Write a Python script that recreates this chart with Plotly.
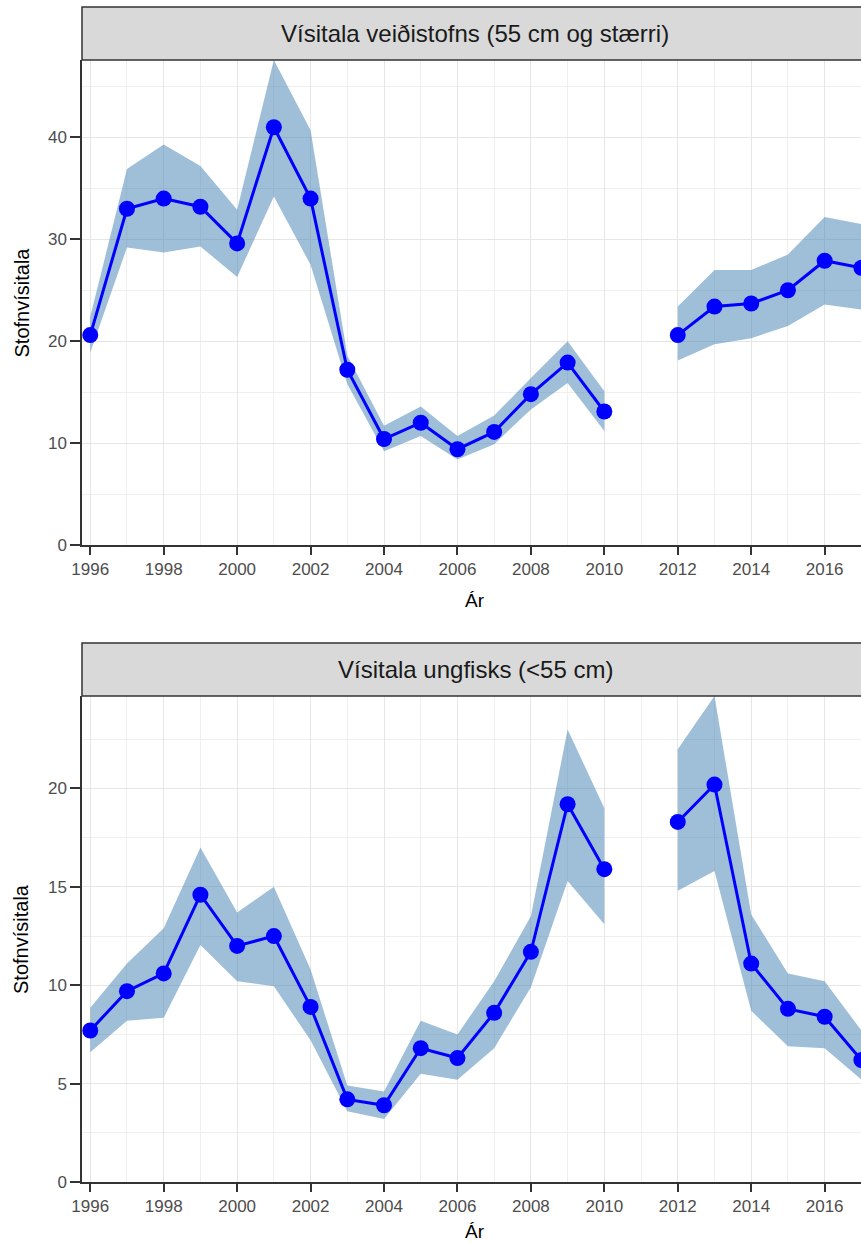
import plotly.graph_objects as go

years = list(range(1996, 2018))

# Panel 1: Vísitala veiðistofns (55 cm og stærri)
veidi_index = [20.6, 33.0, 34.0, 33.2, 29.6, 41.0, 34.0, 17.2, 10.4, 12.0, 9.4, 11.1,
               14.8, 17.9, 13.1, None, 20.6, 23.4, 23.7, 25.0, 27.9, 27.2]
veidi_lower = [18.9, 29.2, 28.7, 29.3, 26.3, 34.2, 27.5, 15.8, 9.2, 10.7, 8.4, 9.9,
               13.3, 15.9, 11.2, None, 18.1, 19.7, 20.3, 21.5, 23.6, 23.1]
veidi_upper = [22.4, 36.9, 39.3, 37.2, 32.9, 47.6, 40.7, 18.6, 11.7, 13.6, 10.7, 12.7,
               16.4, 20.0, 15.1, None, 23.4, 27.0, 27.0, 28.5, 32.2, 31.5]

# Panel 2: Vísitala ungfisks (<55 cm)
ung_index = [7.7, 9.7, 10.6, 14.6, 12.0, 12.5, 8.9, 4.2, 3.9, 6.8, 6.3, 8.6,
             11.7, 19.2, 15.9, None, 18.3, 20.2, 11.1, 8.8, 8.4, 6.2]
ung_lower = [6.6, 8.2, 8.35, 12.05, 10.2, 9.95, 7.2, 3.6, 3.2, 5.5, 5.2, 6.8,
             9.9, 15.3, 13.1, None, 14.8, 15.8, 8.7, 6.9, 6.8, 5.2]
ung_upper = [8.85, 11.1, 12.9, 17.0, 13.7, 15.0, 10.8, 4.9, 4.6, 8.2, 7.5, 10.2,
             13.5, 23.0, 19.0, None, 22.0, 24.7, 13.6, 10.6, 10.2, 7.7]

panel_titles = ["Vísitala veiðistofns (55 cm og stærri)", "Vísitala ungfisks (<55 cm)"]
y_title = "Stofnvísitala"
x_title = "Ár"

W, H = 861, 1244
L = 82
FONT = "Liberation Sans, Arial, Helvetica, sans-serif"
BLUE = "#0000ff"
RIBBON = "rgba(70,130,180,0.52)"

def py(pix):
    return (H - pix) / H

def px(pix):
    return (pix - L) / (W - L)

panels = [
    dict(strip_top=7, plot_top=60, plot_bottom=545, xlab=600,
         idx=veidi_index, lo=veidi_lower, hi=veidi_upper, ymax=47.6, dtick=10, minor=5),
    dict(strip_top=643, plot_top=696, plot_bottom=1182, xlab=1231,
         idx=ung_index, lo=ung_lower, hi=ung_upper, ymax=24.7, dtick=5, minor=2.5),
]

def segments(xs, series):
    segs, cur = [], []
    for i, x in enumerate(xs):
        if series[i] is None:
            if cur:
                segs.append(cur)
            cur = []
        else:
            cur.append(i)
    if cur:
        segs.append(cur)
    return segs

fig = go.Figure()
shapes = []
annotations = []

for k, p in enumerate(panels):
    xa = "x" if k == 0 else "x2"
    ya = "y" if k == 0 else "y2"
    for seg in segments(years, p["idx"]):
        sx = [years[i] for i in seg]
        up = [p["hi"][i] for i in seg]
        lo = [p["lo"][i] for i in seg]
        fig.add_trace(go.Scatter(
            x=sx + sx[::-1], y=up + lo[::-1], fill="toself", fillcolor=RIBBON,
            mode="lines", line=dict(width=0), hoverinfo="skip", showlegend=False,
            xaxis=xa, yaxis=ya))
    for seg in segments(years, p["idx"]):
        sx = [years[i] for i in seg]
        sy = [p["idx"][i] for i in seg]
        fig.add_trace(go.Scatter(
            x=sx, y=sy, mode="lines+markers",
            line=dict(color=BLUE, width=3),
            marker=dict(color=BLUE, size=16),
            showlegend=False, xaxis=xa, yaxis=ya))

    shapes.append(dict(type="rect", xref="paper", yref="paper",
                       x0=0, x1=1.05, y0=py(p["plot_top"]), y1=py(p["strip_top"]),
                       fillcolor="#d9d9d9", line=dict(color="#333333", width=1.5),
                       layer="above"))
    annotations.append(dict(text=panel_titles[k], xref="paper", yref="paper",
                            x=px(475), y=py((p["strip_top"] + p["plot_top"]) / 2),
                            xanchor="center", yanchor="middle", showarrow=False,
                            font=dict(family=FONT, size=24, color="#1a1a1a")))
    annotations.append(dict(text=y_title, xref="paper", yref="paper",
                            x=px(21), y=py((p["plot_top"] + p["plot_bottom"]) / 2),
                            xanchor="center", yanchor="middle", textangle=-90,
                            showarrow=False,
                            font=dict(family=FONT, size=20, color="#000000")))
    annotations.append(dict(text=x_title, xref="paper", yref="paper",
                            x=px(475), y=py(p["xlab"]),
                            xanchor="center", yanchor="middle", showarrow=False,
                            font=dict(family=FONT, size=19, color="#000000")))

xrange = [1995.775, 2016.99]
tickfont = dict(family=FONT, size=17, color="#4d4d4d")

def xaxis_def(dom_anchor):
    return dict(range=xrange, domain=[0, 1], anchor=dom_anchor,
                tickmode="linear", tick0=1996, dtick=2,
                showgrid=True, gridcolor="#e6e6e6", gridwidth=1.3,
                minor=dict(dtick=1, tick0=1996, showgrid=True, gridcolor="#efefef",
                           gridwidth=0.8),
                showline=True, linecolor="#333333", linewidth=1.5,
                ticks="outside", ticklen=8, tickwidth=1.5, tickcolor="#333333",
                tickfont=tickfont, zeroline=False, fixedrange=True, automargin=False)

def yaxis_def(p, dom_anchor):
    return dict(range=[0, p["ymax"]],
                domain=[py(p["plot_bottom"]), py(p["plot_top"])], anchor=dom_anchor,
                tickmode="linear", tick0=0, dtick=p["dtick"],
                showgrid=True, gridcolor="#e6e6e6", gridwidth=1.3,
                minor=dict(dtick=p["minor"], tick0=0, showgrid=True, gridcolor="#efefef",
                           gridwidth=0.8),
                showline=True, linecolor="#333333", linewidth=1.5,
                ticks="outside", ticklen=10, tickwidth=1.5, tickcolor="#333333",
                tickfont=tickfont, zeroline=False, fixedrange=True, automargin=False)

fig.update_layout(
    width=W, height=H,
    margin=dict(l=L, r=0, t=0, b=0, autoexpand=False),
    paper_bgcolor="white", plot_bgcolor="white",
    xaxis=xaxis_def("y"),
    yaxis=yaxis_def(panels[0], "x"),
    xaxis2=xaxis_def("y2"),
    yaxis2=yaxis_def(panels[1], "x2"),
    shapes=shapes,
    annotations=annotations,
    font=dict(family=FONT),
    showlegend=False,
)

fig.write_html("out.html")
